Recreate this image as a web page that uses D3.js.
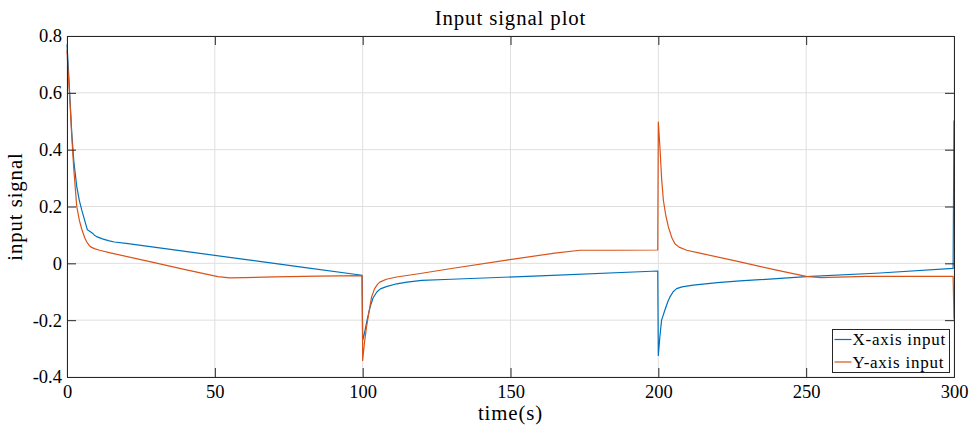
<!DOCTYPE html>
<html>
<head>
<meta charset="utf-8">
<script src="https://cdn.jsdelivr.net/npm/d3@7"></script>
<style>
  body { margin: 0; background: #fff; }
  text { font-family: "Liberation Serif", "Times New Roman", serif; fill: #000; }
</style>
</head>
<body>
<div id="chart"></div>
<script>
// time axis ticks / value ticks
var xTicks = [0, 50, 100, 150, 200, 250, 300];
var yTicks = [-0.4, -0.2, 0, 0.2, 0.4, 0.6, 0.8];

// X-axis input
var timeX = [0, 0.5, 1, 1.6, 2.3, 3.3, 4.2, 5, 6, 6.9, 7.8, 8.5, 9.2, 10, 12, 14, 16, 20, 40, 60, 80, 99.8,
    100, 100.4, 100.8, 101.5, 102.5, 103.5, 104.8, 106, 108, 111.5, 115, 120, 130, 160, 199.8,
    200, 200.5, 201.1, 202.2, 203.2, 203.9, 205, 206.2, 208, 211.8, 220, 227.6, 250, 275, 299.7, 300];
var signalX = [0.77, 0.68, 0.58, 0.46, 0.36, 0.27, 0.22, 0.187, 0.15, 0.118, 0.112, 0.107, 0.1, 0.094, 0.086, 0.08, 0.075, 0.07, 0.042, 0.014, -0.014, -0.042,
    -0.271, -0.255, -0.236, -0.2, -0.154, -0.122, -0.101, -0.09, -0.082, -0.072, -0.066, -0.06, -0.056, -0.044, -0.027,
    -0.324, -0.26, -0.2, -0.165, -0.135, -0.119, -0.1, -0.089, -0.083, -0.077, -0.068, -0.062, -0.047, -0.034, -0.018, 0.503];

// Y-axis input
var timeY = [0, 0.5, 1, 1.6, 2.3, 3.3, 4.2, 5, 6, 6.7, 7.5, 8.3, 9.5, 11, 15, 28, 40, 51, 55, 60, 70, 85, 99.8,
    100, 100.6, 101.3, 102, 103, 104, 105, 105.8, 108, 111.5, 120, 129.5, 149.8, 165, 173.5, 185, 199.8,
    200, 200.6, 201.1, 201.7, 202.5, 203.4, 204.5, 205.6, 207, 209.6, 214, 227.6, 240, 250, 255, 270, 299.7, 300];
var signalY = [0.75, 0.65, 0.57, 0.45, 0.33, 0.2, 0.15, 0.12, 0.09, 0.075, 0.063, 0.056, 0.051, 0.046, 0.036, 0.006, -0.022, -0.047, -0.051, -0.05, -0.048, -0.045, -0.043,
    -0.342, -0.28, -0.224, -0.18, -0.119, -0.09, -0.074, -0.066, -0.056, -0.048, -0.035, -0.019, 0.013, 0.036, 0.046, 0.046, 0.047,
    0.497, 0.398, 0.3, 0.222, 0.17, 0.128, 0.092, 0.069, 0.057, 0.046, 0.036, 0.005, -0.024, -0.046, -0.05, -0.046, -0.046, -0.198];

var seriesNames = ["X-axis input", "Y-axis input"];
var seriesColors = ["#0072BD", "#D95319"];

var width = 974, height = 428;
var margin = { top: 36, right: 20, bottom: 51, left: 67 };
var plotW = width - margin.left - margin.right,
    plotH = height - margin.top - margin.bottom;

var svg = d3.select("#chart").append("svg")
    .attr("width", width)
    .attr("height", height);

var x = d3.scaleLinear().domain([0, 300]).range([margin.left, margin.left + plotW]);
var y = d3.scaleLinear().domain([-0.4, 0.8]).range([margin.top + plotH, margin.top]);

// grid
var grid = svg.append("g").attr("class", "grid");
grid.selectAll(".gx")
    .data(xTicks)
    .enter().append("line")
    .attr("x1", function (d) { return x(d); })
    .attr("x2", function (d) { return x(d); })
    .attr("y1", margin.top)
    .attr("y2", margin.top + plotH)
    .style("stroke", "#dfdfdf")
    .style("stroke-width", 1);
grid.selectAll(".gy")
    .data(yTicks)
    .enter().append("line")
    .attr("x1", margin.left)
    .attr("x2", margin.left + plotW)
    .attr("y1", function (d) { return y(d); })
    .attr("y2", function (d) { return y(d); })
    .style("stroke", "#dfdfdf")
    .style("stroke-width", 1);

// lines
var line = d3.line()
    .x(function (d) { return x(d[0]); })
    .y(function (d) { return y(d[1]); });

var series = [d3.zip(timeX, signalX), d3.zip(timeY, signalY)];

svg.append("g")
    .selectAll("path")
    .data(series)
    .enter().append("path")
    .attr("d", line)
    .style("fill", "none")
    .style("stroke", function (d, i) { return seriesColors[i]; })
    .style("stroke-width", 1.2)
    .style("stroke-linejoin", "round");

// axes, ticks inward on all four sides
var tickLen = 9;
var xBottom = d3.axisBottom(x).tickValues(xTicks).tickSize(-tickLen).tickPadding(8)
    .tickFormat(function (d) { return String(d); });
var xTop = d3.axisTop(x).tickValues(xTicks).tickSize(-tickLen).tickFormat("");
var yLeft = d3.axisLeft(y).tickValues(yTicks).tickSize(-tickLen).tickPadding(5)
    .tickFormat(function (d) { return String(d); });
var yRight = d3.axisRight(y).tickValues(yTicks).tickSize(-tickLen).tickFormat("");

function styleAxis(g) {
    g.select(".domain").style("stroke", "#262626").style("stroke-width", 1);
    g.selectAll(".tick line").style("stroke", "#262626").style("stroke-width", 1);
    g.selectAll(".tick text")
        .style("font-family", '"Liberation Serif", serif')
        .style("font-size", "18.5px")
        .style("fill", "#000");
}

svg.append("g").attr("transform", "translate(0," + (margin.top + plotH) + ")").call(xBottom).call(styleAxis);
svg.append("g").attr("transform", "translate(0," + margin.top + ")").call(xTop).call(styleAxis);
svg.append("g").attr("transform", "translate(" + margin.left + ",0)").call(yLeft).call(styleAxis);
svg.append("g").attr("transform", "translate(" + (margin.left + plotW) + ",0)").call(yRight).call(styleAxis);

// labels
svg.append("text")
    .attr("x", margin.left + plotW / 2)
    .attr("y", 25)
    .attr("text-anchor", "middle")
    .style("font-size", "20.8px")
    .style("letter-spacing", "0.9px")
    .text("Input signal plot");

svg.append("text")
    .attr("x", margin.left + plotW / 2)
    .attr("y", 420)
    .attr("text-anchor", "middle")
    .style("font-size", "20.8px")
    .style("letter-spacing", "0.9px")
    .text("time(s)");

svg.append("text")
    .attr("transform", "translate(22," + (margin.top + plotH / 2) + ") rotate(-90)")
    .attr("text-anchor", "middle")
    .style("font-size", "20.8px")
    .style("letter-spacing", "0.9px")
    .text("input signal");

// legend
var legend = svg.append("g").attr("class", "legend")
    .attr("transform", "translate(832.5,329.5)");
legend.append("rect")
    .attr("width", 117)
    .attr("height", 43)
    .style("fill", "#fff")
    .style("stroke", "#262626")
    .style("stroke-width", 1);
var items = legend.selectAll(".item")
    .data(seriesNames)
    .enter().append("g")
    .attr("transform", function (d, i) { return "translate(0," + (10 + i * 22.5) + ")"; });
items.append("line")
    .attr("x1", 2).attr("x2", 19)
    .style("stroke", function (d, i) { return seriesColors[i]; })
    .style("stroke-width", 1.2);
items.append("text")
    .attr("x", 20)
    .attr("dy", "0.35em")
    .style("font-size", "17px")
    .style("letter-spacing", "0.75px")
    .text(function (d) { return d; });
</script>
</body>
</html>
